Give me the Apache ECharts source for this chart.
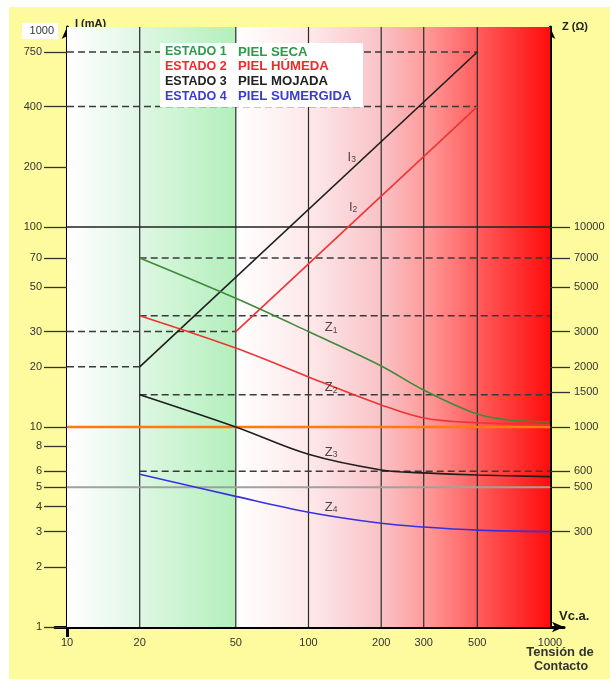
<!DOCTYPE html>
<html><head><meta charset="utf-8">
<script src="https://cdn.jsdelivr.net/npm/echarts@6/dist/echarts.min.js"></script>
<style>html,body{margin:0;padding:0;background:#fff}#c{width:610px;height:679px}</style>
</head><body><div id="c"></div>
<script>
const xTicks = [10, 20, 50, 100, 200, 300, 500, 1000];
const verticalLines = [20, 50, 100, 200, 300, 500];
const yLeftTicks = [1, 2, 3, 4, 5, 6, 8, 10, 20, 30, 50, 70, 100, 200, 400, 750];
const yLeftLabels = [1, 2, 3, 4, 5, 6, 8, 10, 20, 30, 50, 70, 100, 200, 400, 750];
const yTopLabel = '1000';
const yRightTicks = [300, 500, 600, 1000, 1500, 2000, 3000, 5000, 7000, 10000];

const I3 = [[20, 20], [500, 750]];
const I2 = [[50, 30], [500, 400]];
const Z1 = [[20, 70], [50, 44], [100, 30], [200, 20.2], [300, 15.3], [500, 11.6], [700, 10.8], [1000, 10.6]];
const Z2 = [[20, 36], [50, 24.8], [100, 17.8], [200, 12.9], [300, 11.1], [500, 10.5], [1000, 10.3]];
const Z3 = [[20, 14.5], [50, 10], [100, 7.3], [200, 6.1], [300, 5.9], [500, 5.75], [1000, 5.65]];
const Z4 = [[20, 5.8], [50, 4.5], [100, 3.75], [200, 3.3], [300, 3.16], [500, 3.05], [1000, 3.0]];

// reference lines: [x from, x to, y]
const dashedRefs = [[10, 500, 750], [10, 500, 400], [20, 1000, 70], [20, 1000, 36], [10, 50, 30], [10, 20, 20], [20, 1000, 14.5], [20, 1000, 6]];
const blackRefs = [[10, 1000, 100]];
const orangeRefs = [[10, 1000, 10]];
const grayRefs = [[10, 1000, 5]];

// background bands: [x from, x to]
const bandGreenA = [10, 20];
const bandGreenB = [20, 50];
const bandRed = [50, 1000];

// curve labels: [letter, subscript, x, y]
const curveLabels = [['I', '3', 151, 224], ['I', '2', 153, 126], ['Z', '1', 124, 31.3], ['Z', '2', 124, 15.8], ['Z', '3', 124, 7.5], ['Z', '4', 124, 3.98]];

const legendRows = [
  ['ESTADO 1', 'PIEL SECA', '#2e9a4a'],
  ['ESTADO 2', 'PIEL HÚMEDA', '#ee2a2a'],
  ['ESTADO 3', 'PIEL MOJADA', '#222222'],
  ['ESTADO 4', 'PIEL SUMERGIDA', '#3b3bd0']
];

const FONT = '"Liberation Sans", Arial, sans-serif';

function grad(stops) {
  return new echarts.graphic.LinearGradient(0, 0, 1, 0, stops.map(s => ({offset: s[0], color: s[1]})));
}

function refSeries(list, style, z) {
  return list.map(r => ({
    type: 'line', xAxisIndex: 0, yAxisIndex: 0, silent: true, symbol: 'none', z: z,
    data: [[r[0], r[2]], [r[1], r[2]]],
    lineStyle: style
  }));
}

function curve(data, color, smooth) {
  return {
    type: 'line', xAxisIndex: 0, yAxisIndex: 0, silent: true, symbol: 'none', z: 3,
    smooth: smooth ? 0.35 : false,
    data: data,
    lineStyle: {color: color, width: 1.6}
  };
}

const chart = echarts.init(document.getElementById('c'), null, {renderer: 'canvas'});

const LX = 160, LY = 43;
const legendEls = [{
  type: 'rect', z: 100, shape: {x: LX, y: LY, width: 203, height: 64},
  style: {fill: '#ffffff'}, silent: true
}];
legendRows.forEach((r, i) => {
  legendEls.push({type: 'text', z: 101, x: LX + 5, y: LY + 9 + i * 14.7, style: {text: r[0], fill: r[2], font: 'bold 12.5px ' + FONT, verticalAlign: 'middle'}});
  legendEls.push({type: 'text', z: 101, x: LX + 78, y: LY + 9 + i * 14.7, style: {text: r[1], fill: r[2], font: 'bold 13.2px ' + FONT, verticalAlign: 'middle'}});
});

const option = {
  backgroundColor: '#ffffff',
  animation: false,
  textStyle: {fontFamily: FONT},
  grid: [
    {left: 67, right: 60, top: 27, bottom: 52},
    {left: 55, right: 46, top: 27, bottom: 52}
  ],
  xAxis: [
    {
      type: 'log', logBase: 10, min: 10, max: 1000, gridIndex: 0,
      axisLine: {show: false},
      axisTick: {show: true, customValues: [10], length: 10, lineStyle: {color: '#000', width: 3}},
      axisLabel: {customValues: xTicks, margin: 10, fontSize: 11, color: '#333', fontFamily: FONT, formatter: v => String(v)},
      splitLine: {show: false},
      minorTick: {show: false}, minorSplitLine: {show: false}
    },
    {
      type: 'value', min: 0, max: 1, gridIndex: 1,
      axisLine: {show: true, symbol: ['none', 'arrow'], symbolSize: [8, 12], lineStyle: {color: '#000', width: 3}},
      axisTick: {show: false}, axisLabel: {show: false}, splitLine: {show: false},
      name: 'Vc.a.', nameLocation: 'end', nameGap: -5,
      nameTextStyle: {fontWeight: 'bold', fontSize: 13, color: '#222', align: 'left', verticalAlign: 'bottom', padding: [0, 0, 4, 0], fontFamily: FONT}
    }
  ],
  yAxis: [
    {
      type: 'log', logBase: 10, min: 1, max: 1000, gridIndex: 0, position: 'left',
      axisLine: {show: true, symbol: ['none', 'arrow'], symbolSize: [8, 12], lineStyle: {color: '#000', width: 3}},
      axisTick: {show: true, customValues: yLeftTicks, length: 23, lineStyle: {color: '#333', width: 1.3}},
      axisLabel: {customValues: yLeftLabels, margin: 25, fontSize: 11, color: '#333', fontFamily: FONT, formatter: v => String(v)},
      splitLine: {show: false},
      name: 'I (mA)', nameLocation: 'end', nameGap: 3,
      nameTextStyle: {fontWeight: 'bold', fontSize: 11, color: '#222', align: 'left', verticalAlign: 'middle', padding: [0, 0, 0, 8], fontFamily: FONT}
    },
    {
      type: 'log', logBase: 10, min: 100, max: 100000, gridIndex: 0, position: 'right',
      axisLine: {show: true, symbol: ['none', 'arrow'], symbolSize: [8, 12], lineStyle: {color: '#000', width: 3}},
      axisTick: {show: true, customValues: yRightTicks, length: 20, lineStyle: {color: '#333', width: 1.3}},
      axisLabel: {customValues: yRightTicks, margin: 24, fontSize: 11, color: '#333', fontFamily: FONT, formatter: v => String(v)},
      splitLine: {show: false},
      name: 'Z (Ω)', nameLocation: 'end', nameGap: 0,
      nameTextStyle: {fontWeight: 'bold', fontSize: 11, color: '#222', align: 'left', verticalAlign: 'middle', padding: [0, 0, 0, 12], fontFamily: FONT}
    },
    {type: 'value', gridIndex: 1, show: false}
  ],
  graphic: [
    {type: 'rect', z: -100, shape: {x: 9, y: 7, width: 601, height: 672}, style: {fill: '#fdfb9e'}, silent: true},
    ...legendEls,
    {type: 'rect', z: 100, shape: {x: 22, y: 23, width: 36, height: 16}, style: {fill: '#ffffff'}, silent: true},
    {type: 'text', z: 101, x: 54, y: 31, style: {text: yTopLabel, font: '11px ' + FONT, fill: '#333', align: 'right', verticalAlign: 'middle'}},
    {type: 'text', z: 100, x: 560, y: 652, style: {text: 'Tensión de', font: 'bold 13px ' + FONT, fill: '#333', align: 'center', verticalAlign: 'middle'}},
    {type: 'text', z: 100, x: 561, y: 667, style: {text: 'Contacto', font: 'bold 12.5px ' + FONT, fill: '#333', align: 'center', verticalAlign: 'middle'}}
  ],
  series: [
    {
      type: 'line', xAxisIndex: 0, yAxisIndex: 0, data: [], silent: true, z: -1,
      markArea: {
        silent: true,
        data: [
          [{xAxis: bandGreenA[0], yAxis: 1, itemStyle: {color: grad([[0, '#ffffff'], [1, '#e0f6e6']])}}, {xAxis: bandGreenA[1], yAxis: 1000}],
          [{xAxis: bandGreenB[0], yAxis: 1, itemStyle: {color: grad([[0, '#def7e3'], [1, '#b3efbc']])}}, {xAxis: bandGreenB[1], yAxis: 1000}],
          [{xAxis: bandRed[0], yAxis: 1, itemStyle: {color: grad([[0, '#ffffff'], [0.25, '#fde6e8'], [0.46, '#f9c3c7'], [0.6, '#ff9c9c'], [0.79, '#ff5656'], [1, '#ff0c0c']])}}, {xAxis: bandRed[1], yAxis: 1000}]
        ]
      }
    },
    ...verticalLines.map(x => ({
      type: 'line', xAxisIndex: 0, yAxisIndex: 0, silent: true, symbol: 'none', z: 1,
      data: [[x, 1], [x, 1000]],
      lineStyle: {color: '#2a2a2a', width: 1.2}
    })),
    ...refSeries(dashedRefs, {color: '#3a3a3a', width: 1.5, type: [7, 4]}, 2),
    ...refSeries(blackRefs, {color: '#222', width: 1.3}, 2),
    ...refSeries(grayRefs, {color: '#a0a0a0', width: 2}, 2),
    ...refSeries(orangeRefs, {color: '#ff7a10', width: 2.5}, 2),
    curve(I3, '#1e1e1e', false),
    curve(I2, '#ee3434', false),
    curve(Z1, '#3f8a3a', true),
    curve(Z2, '#ee3434', true),
    curve(Z3, '#1e1e1e', true),
    curve(Z4, '#3b30e0', true),
    {
      type: 'scatter', xAxisIndex: 0, yAxisIndex: 0, silent: true, symbolSize: 0, z: 4,
      data: curveLabels.map(l => ({value: [l[2], l[3]], name: l[0] + '|' + l[1]})),
      label: {
        show: true, position: 'inside',
        formatter: p => { const s = p.name.split('|'); return '{m|' + s[0] + '}{s|' + s[1] + '}'; },
        rich: {
          m: {fontSize: 13, color: '#1a1a1a', fontFamily: FONT},
          s: {fontSize: 8.5, color: '#1a1a1a', fontFamily: FONT, verticalAlign: 'bottom', padding: [6, 0, 0, 0]}
        }
      }
    }
  ]
};
chart.setOption(option);
</script></body></html>
